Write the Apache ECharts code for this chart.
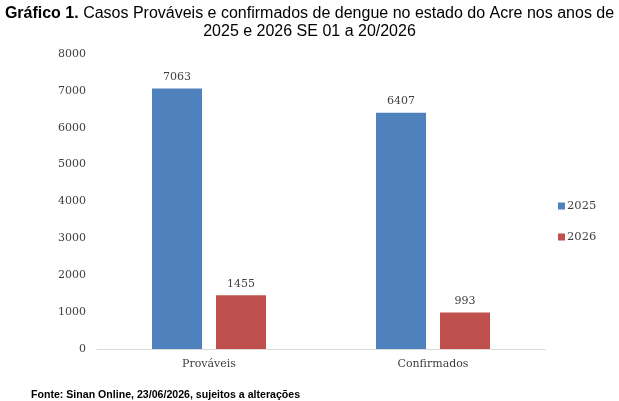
<!DOCTYPE html>
<html>
<head>
<meta charset="utf-8">
<script src="https://cdn.jsdelivr.net/npm/echarts@6/dist/echarts.min.js"></script>
<style>
html, body { margin: 0; padding: 0; background: #fff; }
#main { width: 619px; height: 401px; }
</style>
</head>
<body>
<div id="main"></div>
<script type="text/javascript">
var categories = ['Prováveis', 'Confirmados'];
var values2025 = [7063, 6407];
var values2026 = [1455, 993];
var yTicks = [0, 1000, 2000, 3000, 4000, 5000, 6000, 7000, 8000];

var chart = echarts.init(document.getElementById('main'));

var labelFont = {
    show: true,
    position: 'top',
    distance: 6,
    color: '#404040',
    fontFamily: 'DejaVu Serif',
    fontSize: 11
};

var option = {
    backgroundColor: '#fff',
    animation: false,
    title: {
        left: 'center',
        top: 0,
        text: '{b|Gráfico 1.} Casos Prováveis e confirmados de dengue no estado do Acre nos anos de\n2025 e 2026 SE 01 a 20/2026',
        textStyle: {
            fontFamily: 'Liberation Sans',
            fontSize: 16,
            fontWeight: 'normal',
            color: '#000',
            lineHeight: 18,
            rich: {
                b: { fontFamily: 'Liberation Sans', fontSize: 16, fontWeight: 'bold', color: '#000' }
            }
        }
    },
    graphic: [{
        type: 'text',
        left: 31,
        top: 390,
        style: {
            text: 'Fonte: Sinan Online, 23/06/2026, sujeitos a alterações',
            font: 'bold 10.6px "Liberation Sans"',
            fill: '#000'
        }
    }],
    legend: {
        orient: 'vertical',
        left: 553,
        top: 195,
        itemWidth: 7,
        itemHeight: 7,
        itemGap: 19,
        icon: 'rect',
        textStyle: { fontFamily: 'DejaVu Serif', fontSize: 11.5, color: '#404040', padding: [0, 0, 0, -3] },
        data: ['2025', '2026']
    },
    grid: { left: 97, right: 74, top: 54, bottom: 52 },
    xAxis: {
        type: 'category',
        data: categories,
        axisLine: { lineStyle: { color: '#d9d9d9' } },
        axisTick: { show: false },
        axisLabel: { color: '#404040', fontFamily: 'DejaVu Serif', fontSize: 11, margin: 10 }
    },
    yAxis: {
        type: 'value',
        min: yTicks[0],
        max: yTicks[yTicks.length - 1],
        interval: 1000,
        splitLine: { show: false },
        axisLine: { show: false },
        axisTick: { show: false },
        axisLabel: {
            color: '#404040', fontFamily: 'DejaVu Serif', fontSize: 11, margin: 11,
            formatter: function (v) { return String(v); }
        }
    },
    series: [
        {
            name: '2025',
            type: 'bar',
            data: values2025,
            barWidth: 50,
            barGap: '28%',
            itemStyle: { color: '#4F81BD' },
            label: labelFont
        },
        {
            name: '2026',
            type: 'bar',
            data: values2026,
            barWidth: 50,
            itemStyle: { color: '#C0504D' },
            label: labelFont
        }
    ]
};
chart.setOption(option);
</script>
</body>
</html>
